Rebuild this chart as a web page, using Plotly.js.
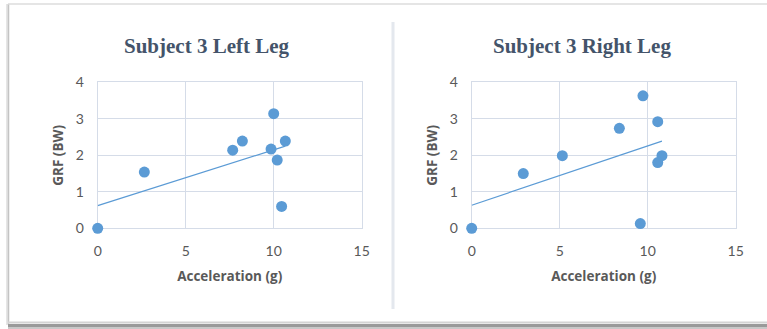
<!DOCTYPE html>
<html>
<head>
<meta charset="utf-8">
<script src="https://cdn.plot.ly/plotly-3.0.1.min.js"></script>
<style>html,body{margin:0;padding:0;background:#fff;}#chart{width:767px;height:329px;}</style>
</head>
<body>
<div id="chart"></div>
<script>
// Data
const leftAccel = [0, 2.65, 7.67, 8.22, 10.0, 9.85, 10.66, 10.2, 10.45];
const leftGRF   = [0, 1.54, 2.14, 2.39, 3.14, 2.17, 2.39, 1.87, 0.60];
const rightAccel = [0, 2.93, 5.15, 8.39, 9.73, 10.57, 10.81, 10.57, 9.58];
const rightGRF   = [0, 1.50, 1.99, 2.74, 3.63, 2.92, 1.99, 1.80, 0.13];
const titles = ["Subject 3 Left Leg", "Subject 3 Right Leg"];
const xTitle = "Acceleration (g)";
const yTitle = "GRF (BW)";

function fit(xs, ys) {
  const n = xs.length;
  const mx = xs.reduce((a, b) => a + b, 0) / n;
  const my = ys.reduce((a, b) => a + b, 0) / n;
  let sxy = 0, sxx = 0;
  for (let i = 0; i < n; i++) { sxy += (xs[i] - mx) * (ys[i] - my); sxx += (xs[i] - mx) ** 2; }
  const m = sxy / sxx, b = my - m * mx;
  const x0 = Math.min(...xs), x1 = Math.max(...xs);
  return { x: [x0, x1], y: [m * x0 + b, m * x1 + b] };
}

const W = 767, H = 329;
const px = v => v / W, py = v => 1 - v / H;
const blue = '#5B9BD5';
const grid = '#d5dce8';
const tickFont = { family: 'Lato, "Open Sans", sans-serif', size: 14, color: '#595959' };
const axTitleFont = { family: '"Open Sans", Lato, sans-serif', size: 13.5, color: '#595959', weight: 'bold' };

const fl = fit(leftAccel, leftGRF), fr = fit(rightAccel, rightGRF);

const traces = [
  { x: fl.x, y: fl.y, mode: 'lines', line: { color: blue, width: 1.2 }, xaxis: 'x', yaxis: 'y', cliponaxis: false, hoverinfo: 'skip' },
  { x: leftAccel, y: leftGRF, mode: 'markers', marker: { color: blue, size: 11, line: { width: 0 } }, xaxis: 'x', yaxis: 'y', cliponaxis: false },
  { x: fr.x, y: fr.y, mode: 'lines', line: { color: blue, width: 1.2 }, xaxis: 'x2', yaxis: 'y2', cliponaxis: false, hoverinfo: 'skip' },
  { x: rightAccel, y: rightGRF, mode: 'markers', marker: { color: blue, size: 11, line: { width: 0 } }, xaxis: 'x2', yaxis: 'y2', cliponaxis: false }
];

function xa(dom, anchor) {
  return {
    domain: dom, anchor: anchor, range: [0, 15], tickvals: [0, 5, 10, 15],
    showgrid: true, gridcolor: grid, gridwidth: 1, zeroline: false,
    showline: true, linecolor: grid, linewidth: 1, mirror: true, layer: 'below traces',
    ticks: 'outside', ticklen: 10, tickcolor: 'rgba(0,0,0,0)',
    tickfont: tickFont, fixedrange: true,
    title: { text: xTitle, font: axTitleFont, standoff: 13 }
  };
}
function ya(dom, anchor) {
  return {
    domain: dom, anchor: anchor, range: [0, 4], tickvals: [0, 1, 2, 3, 4],
    showgrid: true, gridcolor: grid, gridwidth: 1, zeroline: false,
    showline: true, linecolor: grid, linewidth: 1, mirror: true, layer: 'below traces',
    ticks: 'outside', ticklen: 10, tickcolor: 'rgba(0,0,0,0)',
    tickfont: tickFont, fixedrange: true,
    title: { text: yTitle, font: axTitleFont, standoff: 9 }
  };
}

const yDom = [py(228.3), py(82.3)];
const titleFont = { family: '"Liberation Serif", "DejaVu Serif", serif', size: 21, color: '#44546A' };
const layout = {
  width: W, height: H,
  margin: { l: 0, r: 0, t: 0, b: 0 },
  paper_bgcolor: '#ffffff', plot_bgcolor: '#ffffff',
  showlegend: false,
  xaxis: xa([px(97.7), px(361.7)], 'y'),
  yaxis: ya(yDom, 'x'),
  xaxis2: xa([px(471.7), px(735.7)], 'y2'),
  yaxis2: ya(yDom, 'x2'),
  annotations: [
    { text: '<b>' + titles[0] + '</b>', xref: 'paper', yref: 'paper', x: px(207), y: py(46), xanchor: 'center', yanchor: 'middle', showarrow: false, font: titleFont },
    { text: '<b>' + titles[1] + '</b>', xref: 'paper', yref: 'paper', x: px(582), y: py(46), xanchor: 'center', yanchor: 'middle', showarrow: false, font: titleFont }
  ],
  shapes: [
    // outer frame shadows
    { type: 'line', xref: 'paper', yref: 'paper', x0: px(7), x1: px(7), y0: py(4), y1: py(325), line: { color: '#e6e6e6', width: 2 } },
    { type: 'line', xref: 'paper', yref: 'paper', x0: px(8.5), x1: px(8.5), y0: py(4), y1: py(324), line: { color: '#c4c4c4', width: 1.5 } },
    { type: 'line', xref: 'paper', yref: 'paper', x0: px(8), x1: 1, y0: py(4), y1: py(4), line: { color: '#dcdcdc', width: 1.5 } },
    { type: 'line', xref: 'paper', yref: 'paper', x0: px(8), x1: 1, y0: py(322.5), y1: py(322.5), line: { color: '#d4d4d4', width: 2 } },
    { type: 'line', xref: 'paper', yref: 'paper', x0: px(8), x1: 1, y0: py(325.5), y1: py(325.5), line: { color: '#9a9a9a', width: 3 } },
    { type: 'line', xref: 'paper', yref: 'paper', x0: px(8), x1: 1, y0: py(328), y1: py(328), line: { color: '#c8c8c8', width: 2 } },
    // separator between the charts
    { type: 'line', xref: 'paper', yref: 'paper', x0: px(393), x1: px(393), y0: py(22), y1: py(309), line: { color: '#e4e8ee', width: 3 } }
  ]
};

Plotly.newPlot('chart', traces, layout, { staticPlot: true });
</script>
</body>
</html>
